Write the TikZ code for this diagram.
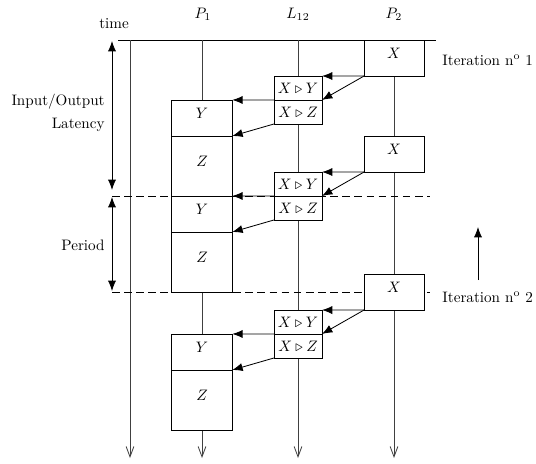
\documentclass[tikz,border=0pt]{standalone}
\usetikzlibrary{arrows.meta,positioning}
\tikzset{
  procbox/.style={draw,fill=white,inner sep=0pt,outer sep=0pt,minimum width=40pt,text height=7pt,text depth=6pt},
  xbox/.style={procbox,minimum width=39.6pt,minimum height=23.8pt},
  ybox/.style={procbox,minimum height=23.8pt},
  zbox/.style={procbox,minimum height=39.6pt},
  commbox/.style={draw,fill=white,inner sep=0pt,outer sep=0pt,minimum width=31.7pt,minimum height=15.8pt},
  msgArrow/.style={-{Latex[length=2.4mm,width=1.9mm]}},
  spanArrow/.style={{Latex[length=2.4mm,width=1.9mm]}-{Latex[length=2.4mm,width=1.9mm]}},
  timeline/.style={-{Straight Barb[length=2.4mm,width=1.8mm]},black!75},
  sepline/.style={dash pattern=on 5pt off 3pt},
  lbl/.style={inner sep=0pt}
}
\begin{document}
\begin{tikzpicture}[x=0.66pt,y=-0.66pt,line width=0.55pt]
  \useasboundingbox (0,0) rectangle (536,463);
  \node[lbl] (time) at (114,24) {time};
  \node[lbl] (p1) at (203,14) {$P_1$};
  \node[lbl] (l12) at (298,14) {$L_{12}$};
  \node[lbl] (p2) at (394,14) {$P_2$};
  \coordinate (topL) at (118,40);
  \coordinate (topR) at (436,40);
  \draw (topL) -- (topR);
  \foreach \x/\n in {130/time,202/p1,298/l12,394/p2}{
    \coordinate (\n-top) at (\x,40);
    \coordinate (\n-end) at (\x,458);
    \draw[timeline] (\n-top) -- (\n-end);
  }
  \foreach \y/\n in {196/a,292/b}{
    \coordinate (\n-l) at (112,\y);
    \coordinate (\n-r) at (430,\y);
    \draw[sepline] (\n-l) -- (\n-r);
  }
  \coordinate (latTop) at (112,41);
  \coordinate (latBot) at (112,190);
  \coordinate (perTop) at (112,197);
  \coordinate (perBot) at (112,291);
  \draw[spanArrow] (latTop) -- (latBot);
  \draw[spanArrow] (perTop) -- (perBot);
  \node[lbl,anchor=east] (io) at (105,102) {Input/Output};
  \node[lbl,anchor=east] (lat) at (105,125) {Latency};
  \node[lbl,anchor=east] (per) at (105,245) {Period};
  \foreach \t/\i in {40/1,136/2,274/3}{
    \node[xbox] (x\i) at (394,\t+18) {$X$};
    \node[commbox] (xy\i) at (298,\t+48) {$X \triangleright Y$};
    \node[commbox] (xz\i) at (298,\t+72) {$X \triangleright Z$};
    \node[ybox] (y\i) at (202,\t+78) {$Y$};
    \node[zbox] (z\i) at (202,\t+126) {$Z$};
    \draw[msgArrow] (x\i.south west) -- (xy\i.north east);
    \draw[msgArrow] (x\i.south west) -- (xy\i.south east);
    \draw[msgArrow] (xy\i.south west) -- (y\i.north east);
    \draw[msgArrow] (xz\i.south west) -- (z\i.north east);
  }
  \node[lbl,anchor=west] (it1) at (442,60) {Iteration n$^\mathrm{o}$ 1};
  \node[lbl,anchor=west] (it2) at (442,297) {Iteration n$^\mathrm{o}$ 2};
  \coordinate (upBot) at (478,280);
  \coordinate (upTop) at (478,227);
  \draw[msgArrow] (upBot) -- (upTop);
\end{tikzpicture}
\end{document}
